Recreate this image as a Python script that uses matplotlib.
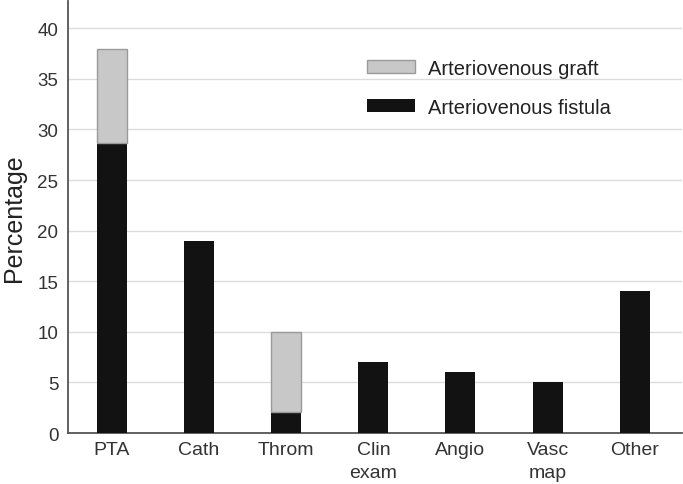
import numpy as np
import matplotlib.pyplot as plt
from matplotlib import rcParams

rcParams['font.family'] = ['Liberation Sans', 'DejaVu Sans']

categories = ['PTA', 'Cath', 'Throm', 'Clin\nexam', 'Angio', 'Vasc\nmap', 'Other']
fistula = [28.7, 19, 2.1, 7, 6, 5, 14]
graft = [9.3, 0, 7.9, 0, 0, 0, 0]

x = np.arange(len(categories))
w = 0.345
fistula = np.array(fistula)
graft = np.array(graft)
has_graft = graft > 0

fig = plt.figure(figsize=(6.83, 4.85), dpi=100)
ax = fig.add_axes([0.0996, 0.105, 0.8985, 0.891])

ax.bar(x, fistula, w, color='#121212', label='Arteriovenous fistula', zorder=3)
# only draw graft segments where there is one (avoids stray edge lines)
ax.bar(x[has_graft], graft[has_graft], w, bottom=fistula[has_graft],
       color='#c8c8c8', edgecolor='#9a9a9a', linewidth=1,
       label='Arteriovenous graft', zorder=3)

ax.set_xlim(-0.505, 6.54)
ax.set_ylim(0, 42.7)
ax.set_yticks(range(0, 41, 5))
ax.set_xticks(x)
ax.set_xticklabels(categories, linespacing=1.45)
ax.tick_params(length=0, colors='#333333')
ax.tick_params(axis='x', labelsize=14, pad=6)
ax.tick_params(axis='y', labelsize=13.5, pad=7)
ax.set_ylabel('Percentage', fontsize=18, color='#222222', labelpad=8)

ax.grid(axis='y', color='#dcdcdc', linewidth=1, zorder=0)
for s in ['top', 'right']:
    ax.spines[s].set_visible(False)
for s in ['left', 'bottom']:
    ax.spines[s].set_color('#555555')
    ax.spines[s].set_linewidth(1.3)

h, l = ax.get_legend_handles_labels()
ax.legend(h[::-1], l[::-1], loc='upper left', bbox_to_anchor=(0.487, 0.866),
          frameon=False, fontsize=14.5, handlelength=2.4, handleheight=0.6,
          labelspacing=0.98, borderpad=0, borderaxespad=0, handletextpad=0.65,
          labelcolor='#222222')

fig.savefig('out.png', dpi=100)
